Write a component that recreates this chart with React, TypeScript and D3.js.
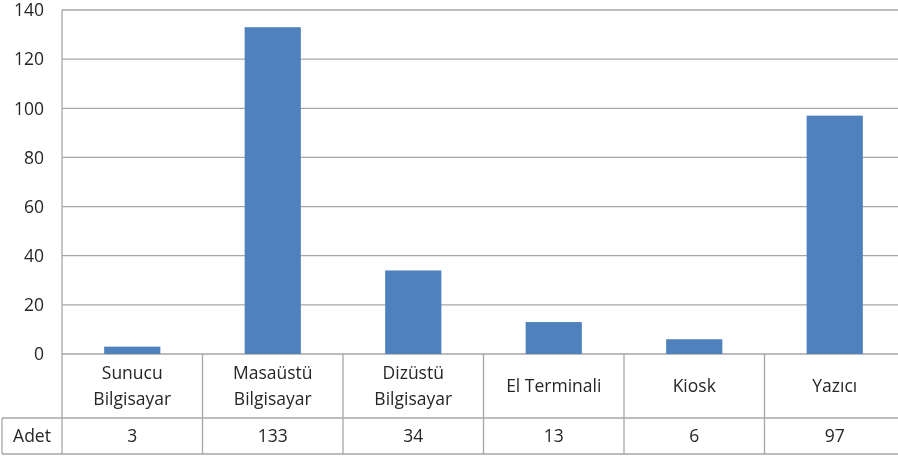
import React, { useEffect, useRef } from 'react';
import * as d3 from 'd3';

const categories = [
  ['Sunucu', 'Bilgisayar'],
  ['Masaüstü', 'Bilgisayar'],
  ['Dizüstü', 'Bilgisayar'],
  ['El Terminali'],
  ['Kiosk'],
  ['Yazıcı'],
];
const values = [3, 133, 34, 13, 6, 97];
const seriesName = 'Adet';
const yTicks = [0, 20, 40, 60, 80, 100, 120, 140];

const App = () => {
  const svgRef = useRef<SVGSVGElement>(null);

  useEffect(() => {
    const svg = d3.select(svgRef.current);
    svg.selectAll('*').remove();

    const width = 898;
    const height = 457;
    const left = 62;
    const right = 905; // plot runs past the picture edge
    const top = 10;
    const bottom = 354;
    const catRowBottom = 418;
    const tableBottom = 454;
    const tableLeft = 2;
    const font = "'Open Sans', 'Noto Sans', sans-serif";
    const grid = '#a6a6a6';
    const fs = '17.5px';

    svg.attr('width', width).attr('height', height);

    const y = d3.scaleLinear().domain([0, 140]).range([bottom, top]);
    const x = d3.scaleBand<number>()
      .domain(d3.range(categories.length))
      .range([left, right]);
    const bandStep = x.step();
    const catX = (i: number) => x(i) as number;

    // gridlines
    svg.append('g')
      .selectAll('line')
      .data(yTicks)
      .enter()
      .append('line')
      .attr('x1', left)
      .attr('x2', right)
      .attr('y1', d => y(d))
      .attr('y2', d => y(d))
      .attr('stroke', grid)
      .attr('stroke-width', 1.3);

    // y labels
    svg.append('g')
      .selectAll('text')
      .data(yTicks)
      .enter()
      .append('text')
      .attr('x', 44)
      .attr('y', d => y(d))
      .attr('dy', '0.36em')
      .attr('text-anchor', 'end')
      .attr('font-family', font)
      .attr('font-size', fs)
      .attr('fill', '#262626')
      .text(d => d);

    // bars
    const bw = bandStep / 2.5;
    svg.append('g')
      .selectAll('rect')
      .data(values)
      .enter()
      .append('rect')
      .attr('x', (d, i) => catX(i) + (bandStep - bw) / 2)
      .attr('y', d => y(d))
      .attr('width', bw)
      .attr('height', d => bottom - y(d))
      .attr('fill', '#4f81bd');

    // data table lines
    const t = svg.append('g').attr('stroke', grid).attr('stroke-width', 1.3);
    t.append('line').attr('x1', left).attr('x2', left).attr('y1', top).attr('y2', tableBottom);
    t.append('line').attr('x1', tableLeft).attr('x2', right).attr('y1', catRowBottom).attr('y2', catRowBottom);
    t.append('line').attr('x1', tableLeft).attr('x2', right).attr('y1', tableBottom).attr('y2', tableBottom);
    t.append('line').attr('x1', tableLeft).attr('x2', tableLeft).attr('y1', catRowBottom).attr('y2', tableBottom);
    t.selectAll('.sep')
      .data(d3.range(1, categories.length + 1))
      .enter()
      .append('line')
      .attr('x1', d => left + d * bandStep)
      .attr('x2', d => left + d * bandStep)
      .attr('y1', bottom)
      .attr('y2', tableBottom);

    // category labels and values
    const labels = svg.append('g')
      .attr('font-family', font)
      .attr('font-size', fs)
      .attr('fill', '#262626')
      .attr('text-anchor', 'middle');
    categories.forEach((lines, i) => {
      const cx = catX(i) + bandStep / 2;
      const mid = (bottom + catRowBottom) / 2;
      lines.forEach((ln, j) => {
        labels.append('text')
          .attr('x', cx)
          .attr('y', mid + (j - (lines.length - 1) / 2) * 26)
          .attr('dy', '0.36em')
          .text(ln);
      });
      labels.append('text')
        .attr('x', cx)
        .attr('y', (catRowBottom + tableBottom) / 2)
        .attr('dy', '0.36em')
        .text(values[i]);
    });

    labels.append('text')
      .attr('x', (tableLeft + left) / 2)
      .attr('y', (catRowBottom + tableBottom) / 2)
      .attr('dy', '0.36em')
      .text(seriesName);
  }, []);

  return (
    <div style={{ position: 'fixed', top: 0, left: 0 }}>
      <svg ref={svgRef} style={{ display: 'block' }}></svg>
    </div>
  );
};

export default App;
